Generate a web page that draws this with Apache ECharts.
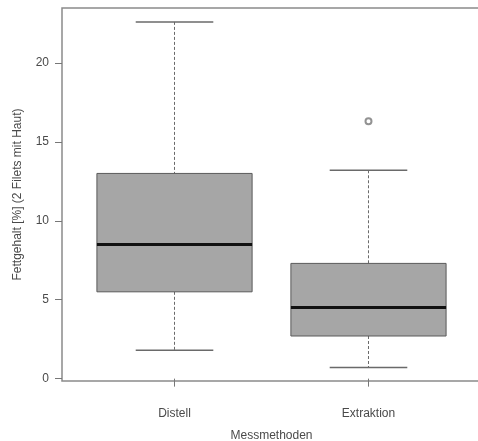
<!DOCTYPE html>
<html>
<head>
<meta charset="utf-8">
<script src="https://cdn.jsdelivr.net/npm/echarts@6/dist/echarts.min.js"></script>
<style>
html,body{margin:0;padding:0;background:#fff;}
#chart{width:478px;height:441px;}
</style>
</head>
<body>
<div id="chart"></div>
<script>
const categories = ['Distell', 'Extraktion'];
const lowWhisker = [1.8, 0.7];
const q1 = [5.5, 2.7];
const median = [8.5, 4.5];
const q3 = [13.0, 7.3];
const highWhisker = [22.6, 13.2];
const outlierCategory = ['Extraktion'];
const outlierValue = [16.3];
const yTicks = [0, 5, 10, 15, 20];

const boxData = categories.map((c, i) => [i + 1, lowWhisker[i], q1[i], median[i], q3[i], highWhisker[i]]);
const outlierData = outlierCategory.map((c, i) => [categories.indexOf(c) + 1, outlierValue[i]]);
const xTicks = categories.map((c, i) => i + 1);

const chart = echarts.init(document.getElementById('chart'), null, {renderer: 'canvas'});
const textColor = '#4a4a4a';
const font = 'Liberation Sans, Arial, sans-serif';

function renderBox(params, api) {
  const x = api.value(0);
  const lo = api.value(1), b1 = api.value(2), md = api.value(3), b3 = api.value(4), hi = api.value(5);
  const halfBox = 0.4, halfCap = 0.2;
  const pLo = api.coord([x, lo]), pB1 = api.coord([x, b1]), pMd = api.coord([x, md]);
  const pB3 = api.coord([x, b3]), pHi = api.coord([x, hi]);
  const left = api.coord([x - halfBox, md])[0], right = api.coord([x + halfBox, md])[0];
  const cl = api.coord([x - halfCap, md])[0], cr = api.coord([x + halfCap, md])[0];
  const wStyle = {stroke: '#6a6a6a', lineWidth: 1, lineDash: [3, 2]};
  const cStyle = {stroke: '#6a6a6a', lineWidth: 1.5};
  return {
    type: 'group',
    children: [
      {type: 'line', shape: {x1: pHi[0], y1: pHi[1], x2: pB3[0], y2: pB3[1]}, style: wStyle},
      {type: 'line', shape: {x1: pB1[0], y1: pB1[1], x2: pLo[0], y2: pLo[1]}, style: wStyle},
      {type: 'line', shape: {x1: cl, y1: pHi[1], x2: cr, y2: pHi[1]}, style: cStyle},
      {type: 'line', shape: {x1: cl, y1: pLo[1], x2: cr, y2: pLo[1]}, style: cStyle},
      {type: 'rect', shape: {x: left, y: pB3[1], width: right - left, height: pB1[1] - pB3[1]},
        style: {fill: '#a6a6a6', stroke: '#5a5a5a', lineWidth: 1}},
      {type: 'line', shape: {x1: left, y1: pMd[1], x2: right, y2: pMd[1]}, style: {stroke: '#111', lineWidth: 3}}
    ]
  };
}

chart.setOption({
  animation: false,
  backgroundColor: '#fff',
  grid: {left: 62, top: 8, width: 419, height: 373, show: true, borderColor: '#8a8a8a', borderWidth: 1.5,
    containLabel: false, outerBoundsMode: 'none'},
  xAxis: {
    type: 'value', min: 0.42, max: 2.58,
    name: 'Messmethoden', nameLocation: 'middle', nameGap: 49,
    nameTextStyle: {color: textColor, fontSize: 12, fontFamily: font},
    axisLine: {show: false},
    splitLine: {show: false},
    axisTick: {show: true, customValues: xTicks, length: 8, lineStyle: {color: '#777', width: 1}},
    axisLabel: {customValues: xTicks, formatter: v => categories[Math.round(v) - 1] || '', margin: 27,
      color: textColor, fontSize: 12, fontFamily: font}
  },
  yAxis: {
    type: 'value', min: -0.15, max: 23.48,
    name: 'Fettgehalt [%] (2 Filets mit Haut)', nameLocation: 'middle', nameGap: 38, nameRotate: 90,
    nameTextStyle: {color: textColor, fontSize: 12, fontFamily: font},
    axisLine: {show: false},
    splitLine: {show: false},
    axisTick: {show: true, customValues: yTicks, length: 7, lineStyle: {color: '#777', width: 1}},
    axisLabel: {customValues: yTicks, margin: 13, color: textColor, fontSize: 12, fontFamily: font}
  },
  series: [
    {type: 'custom', renderItem: renderBox, data: boxData, encode: {x: 0, y: [1, 2, 3, 4, 5]}, silent: true},
    {type: 'scatter', data: outlierData, symbol: 'emptyCircle', symbolSize: 6,
      itemStyle: {color: '#777', borderColor: '#777', borderWidth: 1.2}, silent: true}
  ]
});
</script>
</body>
</html>
